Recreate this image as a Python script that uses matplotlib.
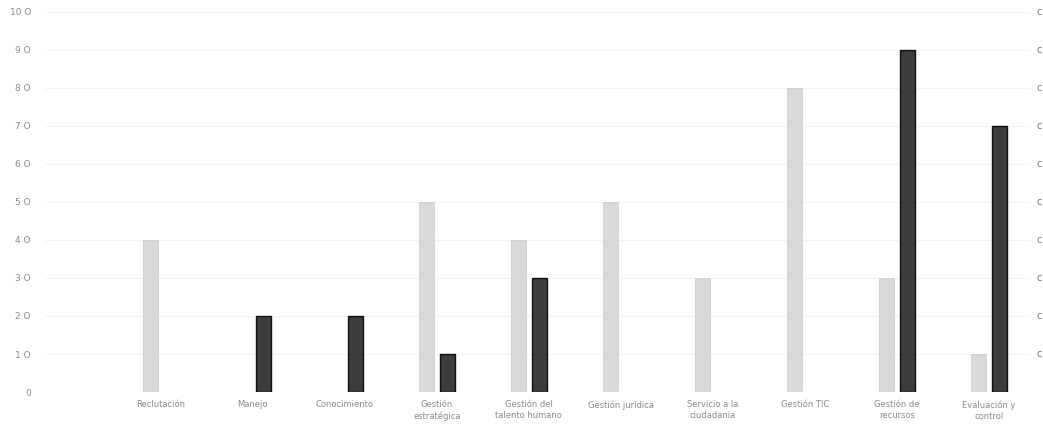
import matplotlib.pyplot as plt
import numpy as np

categorias = ["Reclutación", "Manejo", "Conocimiento", "Gestión\nestratégica",
              "Gestión del\ntalento humano", "Gestión jurídica", "Servicio a la\nciudadanía",
              "Gestión TIC", "Gestión de\nrecursos", "Evaluación y\ncontrol"]
nivel_claro = [4, 0, 0, 5, 4, 5, 3, 8, 3, 1]
nivel_oscuro = [0, 2, 2, 1, 3, 0, 0, 0, 9, 7]
yticks = list(range(0, 11))
ytick_labels = ["0"] + [f"{v} O" for v in range(1, 11)]

fig = plt.figure(figsize=(10.43, 4.25), dpi=100)
ax = fig.add_axes([0.043, 0.0776, 0.945, 0.8944])

x = np.arange(len(categorias))
claro = np.array(nivel_claro)
oscuro = np.array(nivel_oscuro)
w = 0.165
gap = 0.03
# solo se dibujan las barras con valor
mc = claro > 0
mo = oscuro > 0
ax.bar(x[mc] - w / 2 - gap, claro[mc], width=w, color="#d9d9d9", edgecolor="#cfcfcf", linewidth=0.6)
ax.bar(x[mo] + w / 2 + gap, oscuro[mo], width=w, color="#3c3c3c", edgecolor="#111111", linewidth=1.0)

ax.set_xlim(-1.26, 9.45)
ax.set_ylim(0, 10)
ax.set_yticks(yticks)
ax.set_yticklabels(ytick_labels, fontsize=6.5, color="#8a8a8a")
ax.set_xticks(x)
ax.set_xticklabels(categorias, fontsize=6, color="#8a8a8a", linespacing=1.25)
ax.tick_params(axis="x", length=0, pad=6)
ax.tick_params(axis="y", length=0, pad=10)
for s in ax.spines.values():
    s.set_visible(False)
ax.yaxis.grid(True, color="#f3f3f3", linewidth=0.8)
ax.set_axisbelow(True)

# marcas del eje derecho
for v in range(1, 11):
    ax.text(1.0 + 6 / 985, v, "c", transform=ax.get_yaxis_transform(), fontsize=7,
            color="#777777", va="center", ha="left", clip_on=False)

fig.savefig("out.png", dpi=100, facecolor="white")
